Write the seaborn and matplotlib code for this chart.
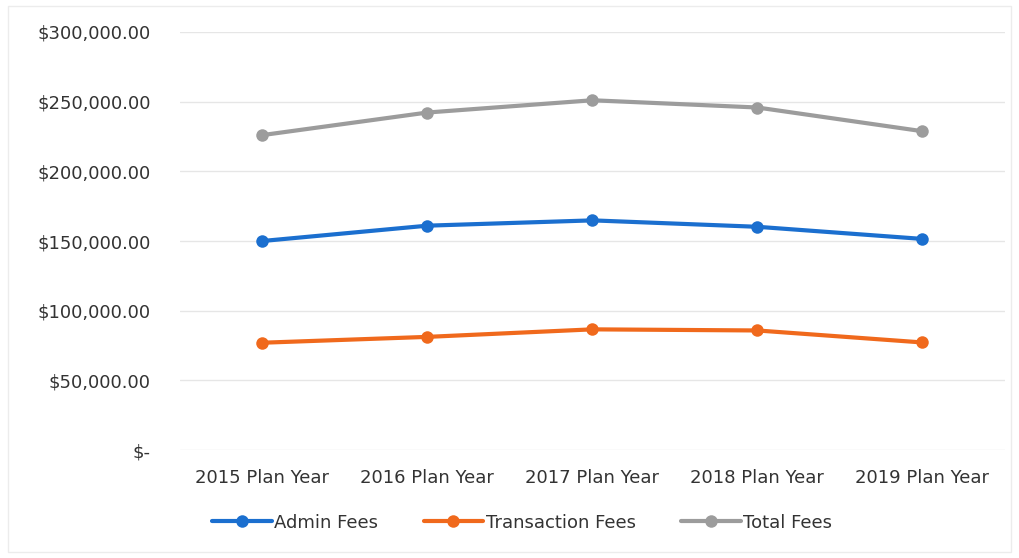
import matplotlib
matplotlib.use("Agg")
import matplotlib.pyplot as plt
from matplotlib.ticker import FuncFormatter
import pandas as pd
import seaborn as sns

# Plan-year fee data
years = ["2015 Plan Year", "2016 Plan Year", "2017 Plan Year", "2018 Plan Year", "2019 Plan Year"]
admin_fees = [150000, 161000, 164800, 160200, 151500]
transaction_fees = [77000, 81200, 86600, 85800, 77200]
total_fees = [226000, 242200, 251000, 245800, 228800]

series_names = ["Admin Fees", "Transaction Fees", "Total Fees"]
series_colors = {"Admin Fees": "#1b6fcf", "Transaction Fees": "#f0691c", "Total Fees": "#9c9c9c"}
y_ticks = [0, 50000, 100000, 150000, 200000, 250000, 300000]

df = pd.concat([
    pd.DataFrame({"year": years, "fee": vals, "series": name})
    for name, vals in zip(series_names, [admin_fees, transaction_fees, total_fees])
], ignore_index=True)

sns.set_style("white")
plt.rcParams["font.family"] = ["DejaVu Sans"]

fig = plt.figure(figsize=(10.19, 5.58), dpi=100)
ax = fig.add_axes([0.1766, 0.1935, 0.8094, 0.7492])

sns.lineplot(data=df, x="year", y="fee", hue="series", hue_order=series_names,
             palette=series_colors, marker="o", markersize=9, markeredgewidth=0,
             linewidth=3.0, sort=False, ax=ax)

ax.set_xlim(-0.5, len(years) - 0.5)
ax.set_ylim(0, 300000)
ax.set_yticks(y_ticks)


def money(v, _):
    return "$-" if v == 0 else f"${v:,.2f}"


ax.yaxis.set_major_formatter(FuncFormatter(money))
ax.grid(axis="y", color="#e6e6e6", linewidth=1)
ax.grid(axis="x", visible=False)
for s in ax.spines.values():
    s.set_visible(False)
ax.tick_params(axis="y", length=0, pad=21, labelsize=13, labelcolor="#333333")
ax.tick_params(axis="x", length=0, pad=14, labelsize=13, labelcolor="#333333")
ax.set_xlabel("")
ax.set_ylabel("")

ax.legend(loc="upper center", bbox_to_anchor=(0.415, -0.113), ncol=3, frameon=False,
          fontsize=13, handlelength=3.3, handletextpad=0.15, columnspacing=2.5,
          labelcolor="#333333")

# faint chart-area border
fig.add_artist(plt.Rectangle((8 / 1019, 6 / 558), 1003 / 1019, 546 / 558,
                             fill=False, edgecolor="#ececec", linewidth=1,
                             transform=fig.transFigure))

fig.savefig("out.png", dpi=100, facecolor="white")
